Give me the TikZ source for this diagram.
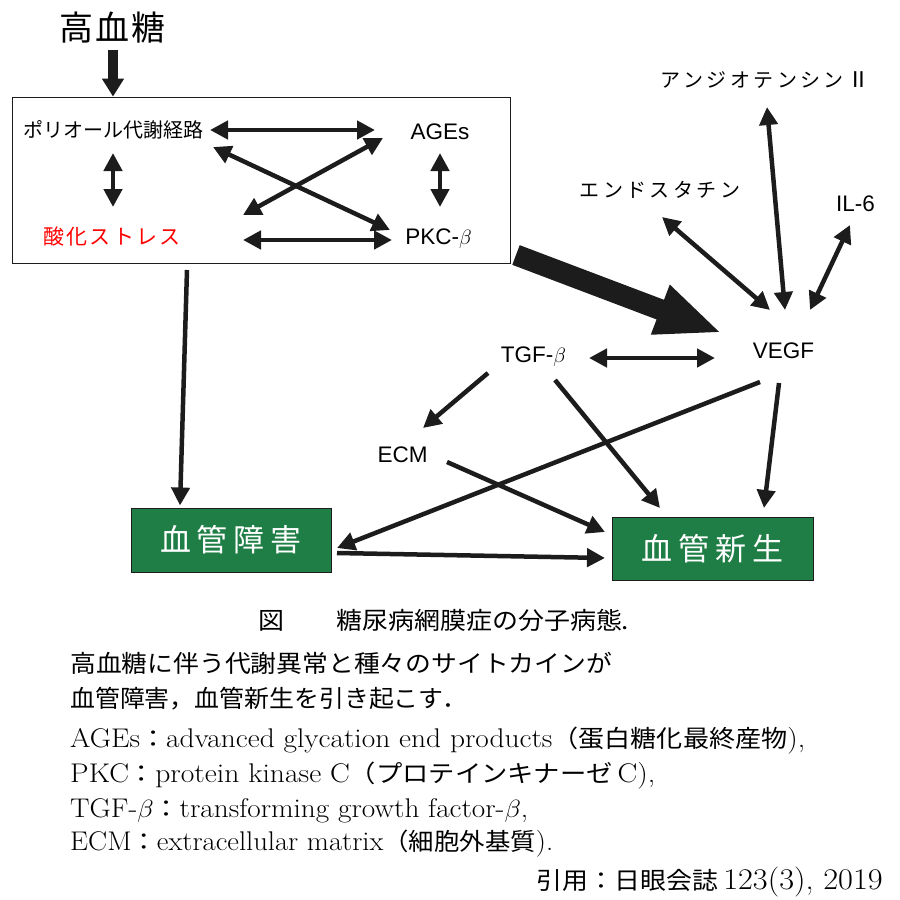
\documentclass[tikz,border=0pt]{standalone}
\usepackage{fontspec}
\usepackage{graphicx}
\newfontfamily\jp{Noto Sans CJK JP}
\newfontfamily\ar{Liberation Sans}
\usetikzlibrary{arrows.meta,calc}
\definecolor{vg}{RGB}{30,126,69}
\definecolor{ink}{RGB}{28,28,28}
\makeatletter
\newcommand\spc[2]{\def\spc@a{#1}\@tfor\spc@c:=#2\do{\spc@c\hspace{\spc@a}}\unskip}
\makeatother
\newcommand\J[1]{{\jp\fontsize{24}{28}\selectfont #1}}
\begin{document}
\begin{tikzpicture}[x=1pt,y=-1pt,
  lat/.style={inner sep=0pt, font=\ar\fontsize{22.5}{24}\selectfont, text height=16pt, text depth=0pt},
  jpl/.style={inner sep=0pt, font=\jp\fontsize{20}{22}\selectfont, text height=15pt, text depth=0pt},
  gbox/.style={draw=ink, line width=1pt, fill=vg, text=white, inner sep=0pt, minimum width=200pt, minimum height=64pt, font=\jp\fontsize{31}{33}\selectfont, text height=23.5pt, text depth=0pt},
  arr/.style={draw=ink, line width=4.5pt},
  dbl/.style={arr, {Triangle[length=18pt,width=18pt]}-{Triangle[length=18pt,width=18pt]}},
  one/.style={arr, -{Triangle[length=18pt,width=18pt]}},
  capl/.style={inner sep=0pt, anchor=base west, font=\fontsize{27}{30}\selectfont},
]
\path[use as bounding box, fill=white] (0,0) rectangle (900,900);

% nodes
\node[inner sep=0pt, font=\jp\fontsize{34}{36}\selectfont, text height=26pt, text depth=0pt] (hg) at (112.5,27) {\spc{2pt}{高血糖}};
\node[draw=ink, line width=0.8pt, minimum width=498pt, minimum height=166pt, inner sep=0pt] (frame) at (261,180) {};
\node[jpl] (poly) at (113.5,130) {ポリオール代謝経路};
\node[lat] (ages) at (440,131) {AGEs};
\node[jpl, font=\jp\fontsize{21}{22}\selectfont, text height=16pt, text=red] (ox) at (112,236) {\spc{2.3pt}{酸化ストレス}};
\node[lat] (pkc) at (438.5,236) {PKC-$\beta$};
\node[jpl] (ang) at (762.5,80) {\spc{3.4pt}{アンジオテンシン}\hspace{8pt}{\ar\fontsize{23}{24}\selectfont II}};
\node[jpl] (endo) at (660,190) {\spc{3.4pt}{エンドスタチン}};
\node[lat] (il6) at (855.5,203) {IL-6};
\node[lat] (vegf) at (783.5,350) {VEGF};
\node[lat] (tgf) at (533.5,354) {TGF-$\beta$};
\node[lat] (ecm) at (402.5,454) {ECM};
\node[gbox] (dmg) at (231,540) {\spc{6pt}{血管障害}};
\node[gbox, minimum width=201pt, minimum height=63pt] (neo) at (712.5,548.5) {\spc{6pt}{血管新生}};

% arrows
\draw[draw=ink, line width=10pt, -{Triangle[length=18pt,width=21pt]}] ([shift={(0.5,23)}]hg.center) -- ($(hg.center |- frame.north)+(0.5,0)$);
\draw[dbl] ([shift={(96.5,0)}]poly.center) -- ([shift={(-65,-1)}]ages.center);
\draw[dbl] ([shift={(-0.5,23)}]poly.center) -- ([shift={(1,-29)}]ox.center);
\draw[dbl] ([shift={(0,22)}]ages.center) -- ([shift={(1.5,-29)}]pkc.center);
\draw[dbl] ([shift={(131,4)}]ox.center) -- ([shift={(-46.5,4)}]pkc.center);
\draw[dbl] ([shift={(99.5,17)}]poly.center) -- ([shift={(-48.5,-6)}]pkc.center);
\draw[dbl] ([shift={(-57,7)}]ages.center) -- ([shift={(131,-21)}]ox.center);
\draw[one] ([shift={(-74,90)}]frame.center) -- ([shift={(-51,-2)}]dmg.north);
\draw[draw=ink, line width=21pt, -{Triangle[length=66pt,width=48pt]}] ([shift={(255,75)}]frame.center) -- ([shift={(-61.5,-17)}]vegf.center);
\draw[dbl] ([shift={(1.5,-40)}]vegf.center) -- ([shift={(4.5,27)}]ang.center);
\draw[dbl] ([shift={(-13.5,-40)}]vegf.center) -- ([shift={(2,27)}]endo.center);
\draw[dbl] ([shift={(26.5,-40)}]vegf.center) -- ([shift={(-5.5,22)}]il6.center);
\draw[dbl] ([shift={(55.5,4)}]tgf.center) -- ([shift={(-68.5,8)}]vegf.center);
\draw[one] ([shift={(-45.5,19)}]tgf.center) -- ([shift={(20.5,-26)}]ecm.center);
\draw[one] ([shift={(21.5,26)}]tgf.center) -- ([shift={(-52.5,-40.5)}]neo.center);
\draw[one] ([shift={(44.5,8)}]ecm.center) -- ([shift={(-107.5,-16.5)}]neo.center);
\draw[one] ([shift={(-23.5,32)}]vegf.center) -- ([shift={(106,8)}]dmg.center);
\draw[one] ([shift={(-4.5,33)}]vegf.center) -- ([shift={(51.5,-40.5)}]neo.center);
\draw[one] ([shift={(106,13)}]dmg.center) -- ([shift={(-107.5,9.5)}]neo.center);

% caption
\node[capl] (c1) at (258,629) {\resizebox{371pt}{\height}{\J{図\hspace{2em}糖尿病網膜症の分子病態.}}};
\node[capl] (c2) at (70,672) {\resizebox{542pt}{\height}{\J{高血糖に伴う代謝異常と種々のサイトカインが}}};
\node[capl] (c3) at (70,707) {\resizebox{397pt}{\height}{\J{血管障害，血管新生を引き起こす．}}};
\node[capl] (c4) at (70,747) {\resizebox{735pt}{\height}{AGEs\J{：}advanced glycation end products\J{（蛋白糖化最終産物}),}};
\node[capl] (c5) at (70,782) {\resizebox{585pt}{\height}{PKC\J{：}protein kinase C\J{（プロテインキナーゼ}\,C),}};
\node[capl] (c6) at (70,817) {\resizebox{458pt}{\height}{TGF-$\beta$\J{：}transforming growth factor-$\beta$,}};
\node[capl] (c7) at (70,850) {\resizebox{483pt}{\height}{ECM\J{：}extracellular matrix\J{（細胞外基質}).}};
\node[capl, anchor=base east, font=\fontsize{30}{32}\selectfont] (cite) at (883,889) {\resizebox{346pt}{\height}{\J{引用：日眼会誌}\,123(3), 2019}};
\end{tikzpicture}
\end{document}
